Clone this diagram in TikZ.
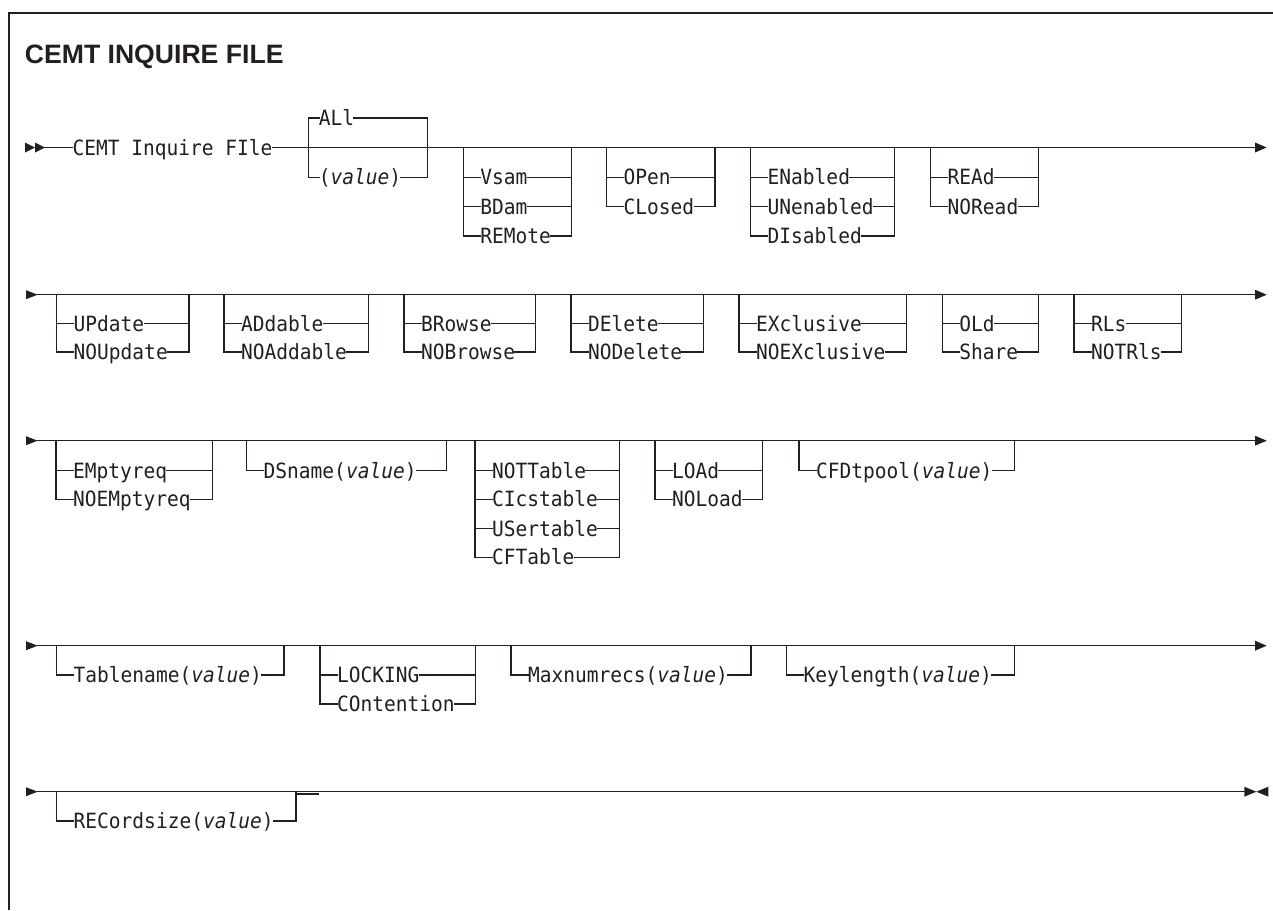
\documentclass[tikz,border=0pt]{standalone}
\usepackage{fontspec}
\usetikzlibrary{arrows.meta}
\newfontfamily\monofam{DejaVu Sans Mono}[FakeStretch=0.93]
\newfontfamily\titlefam{Liberation Sans}
\definecolor{ink}{RGB}{35,31,32}
\tikzset{
  ln/.style={draw=ink, line width=1.4pt, line cap=rect},
  opt/.style={inner sep=0pt, outer sep=0pt, anchor=west, text=ink,
    font=\monofam\fontsize{21pt}{25pt}\selectfont, text height=15.3pt, text depth=0pt},
  endtip/.style={-{Triangle[length=11.7pt,width=10pt,line width=0pt]}},
}
\newcommand{\grp}[7]{%
  \coordinate (#1-lt) at (#2,#4);
  \coordinate (#1-lb) at (#2,#5);
  \coordinate (#1-rt) at (#3,#4);
  \coordinate (#1-rb) at (#3,#5);
  \draw[ln] (#1-lt) -- (#1-lb);
  \draw[ln] (#1-rt) -- (#1-rb);
  \foreach \yy/\optlab [count=\k] in {#7}{%
    \coordinate (#1-l\k) at (#2,\yy);
    \coordinate (#1-r\k) at (#3,\yy);
    \node[opt] (#1-\k) at ({#2+#6},\yy) {\optlab};
    \draw[ln] (#1-l\k) -- (#1-\k.west);
    \draw[ln] (#1-\k.east) -- (#1-r\k);
  }%
}
\begin{document}
\begin{tikzpicture}[x=1pt,y=-1pt]
\useasboundingbox (0,0) rectangle (1273,910);
\fill[white] (0,0) rectangle (1273,910);
% frame
\draw[draw=ink, line width=2pt] (1273,13) -- (9,13) -- (9,910);
% title
\node[anchor=base west, inner sep=0pt, text=ink, font=\titlefam\bfseries\fontsize{26.6pt}{30pt}\selectfont] (title) at (24.7,63.3) {CEMT INQUIRE FILE};

% ---------- row 1 ----------
\fill[ink] (25,142.5) -- (35,147.5) -- (25,152.5) -- cycle;
\fill[ink] (35,142.5) -- (45,147.5) -- (35,152.5) -- cycle;
\coordinate (s1) at (45,147.5);
\coordinate (e1) at (1266.7,147.5);
\node[opt] (cmd) at (72.5,147.5) {CEMT Inquire FIle};
\draw[ln] (s1) -- (cmd.west);
\draw[ln,endtip] (cmd.east) -- (e1);
\grp{all}{308.3}{427.7}{118}{177.3}{10.5}{118/ALl,177.3/{(\textit{value})}}
\grp{vsam}{463.3}{571.7}{147.5}{236}{17}{177.3/Vsam,206.7/BDam,236/REMote}
\grp{open}{606.7}{715}{147.5}{206.7}{17}{177.3/OPen,206.7/CLosed}
\grp{enab}{750.7}{894.3}{147.5}{236}{17}{177.3/ENabled,206.7/UNenabled,236/DIsabled}
\grp{read}{930.7}{1038.3}{147.5}{206.7}{17}{177.3/REAd,206.7/NORead}

% ---------- row 2 ----------
\fill[ink] (26,290.2) -- (37.7,294.7) -- (26,299.2) -- cycle;
\coordinate (s2) at (37.7,294.7);
\coordinate (e2) at (1266.7,294.7);
\draw[ln,endtip] (s2) -- (e2);
\grp{upd}{56.7}{189}{294.7}{352}{17}{323.5/UPdate,352/NOUpdate}
\grp{add}{224}{368.3}{294.7}{352}{17}{323.5/ADdable,352/NOAddable}
\grp{brw}{404}{535.7}{294.7}{352}{17}{323.5/BRowse,352/NOBrowse}
\grp{del}{571}{703.3}{294.7}{352}{17}{323.5/DElete,352/NODelete}
\grp{exc}{739}{906.7}{294.7}{352}{17}{323.5/EXclusive,352/NOEXclusive}
\grp{old}{942.3}{1038.3}{294.7}{352}{17}{323.5/OLd,352/Share}
\grp{rls}{1074}{1181.7}{294.7}{352}{17}{323.5/RLs,352/NOTRls}

% ---------- row 3 ----------
\fill[ink] (26,436.2) -- (37.7,440.7) -- (26,445.2) -- cycle;
\coordinate (s3) at (37.7,440.7);
\coordinate (e3) at (1266.7,440.7);
\draw[ln,endtip] (s3) -- (e3);
\grp{emp}{56}{212.3}{440.7}{499.3}{17}{470.7/EMptyreq,499.3/NOEMptyreq}
\grp{dsn}{246.7}{446.7}{440.7}{470.7}{17}{470.7/{DSname(\textit{value})}}
\grp{tbl}{475}{619.3}{440.7}{557.3}{17}{470.7/NOTTable,499.3/CIcstable,528.7/USertable,557.3/CFTable}
\grp{load}{655}{762.7}{440.7}{499.3}{17}{470.7/LOAd,499.3/NOLoad}
\grp{cfd}{799}{1014.3}{440.7}{470.7}{17}{470.7/{CFDtpool(\textit{value})}}

% ---------- row 4 ----------
\fill[ink] (26,641.2) -- (37.7,645.7) -- (26,650.2) -- cycle;
\coordinate (s4) at (37.7,645.7);
\coordinate (e4) at (1266.7,645.7);
\draw[ln,endtip] (s4) -- (e4);
\grp{tname}{56.7}{284}{645.7}{675}{17}{675/{Tablename(\textit{value})}}
\grp{lock}{320}{475.7}{645.7}{704}{17}{675/LOCKING,704/COntention}
\grp{maxn}{511}{751}{645.7}{675}{17}{675/{Maxnumrecs(\textit{value})}}
\grp{keyl}{786.7}{1014.3}{645.7}{675}{17}{675/{Keylength(\textit{value})}}

% ---------- row 5 ----------
\fill[ink] (26,787.2) -- (37.7,791.7) -- (26,796.2) -- cycle;
\coordinate (s5) at (37.7,791.7);
\coordinate (e5) at (1244.3,791.7);
\draw[ln] (s5) -- (e5);
\fill[ink] (1244.3,786.7) -- (1256.3,791.7) -- (1244.3,796.7) -- cycle;
\fill[ink] (1268.3,786.7) -- (1256.3,791.7) -- (1268.3,796.7) -- cycle;
\grp{recs}{56.7}{296}{791.7}{821}{17}{821/{RECordsize(\textit{value})}}
% short offset segment beside the last bracket
\coordinate (jt1) at (296,794);
\coordinate (jt2) at (318,794);
\draw[ln] (jt1) -- (jt2);
\end{tikzpicture}
\end{document}
